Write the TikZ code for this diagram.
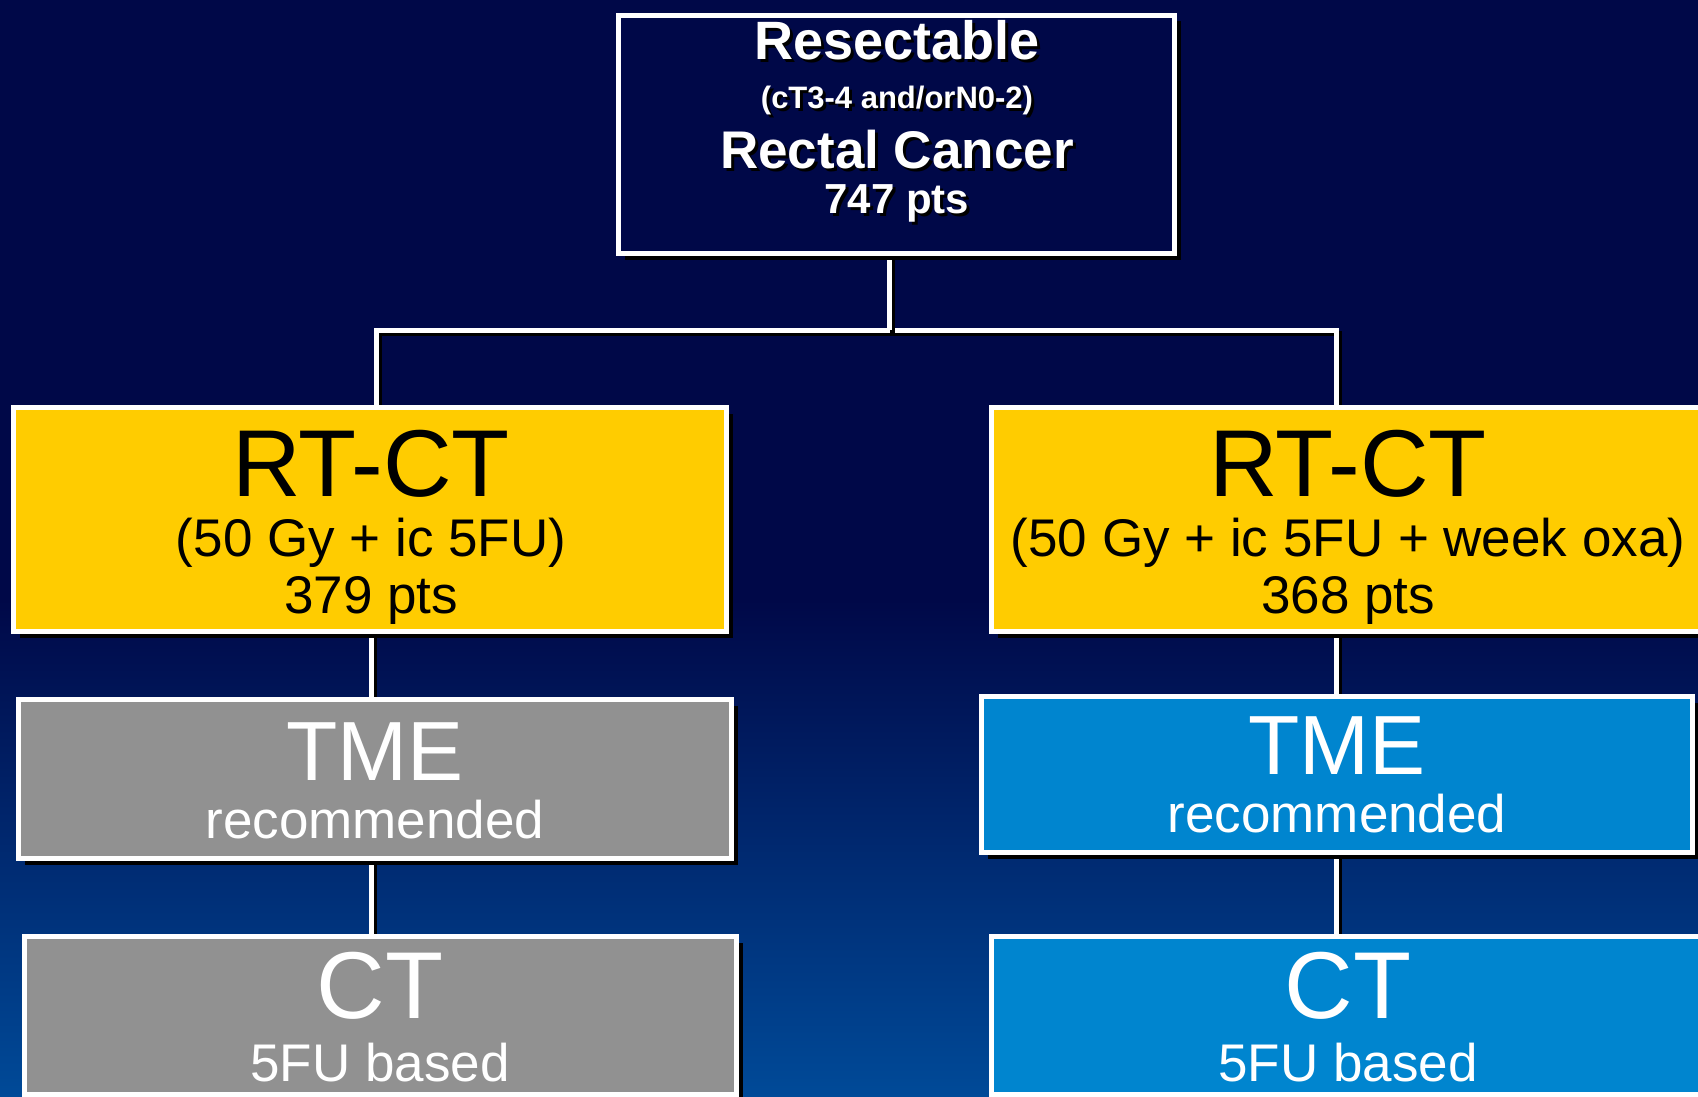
\documentclass[tikz,border=0pt]{standalone}
\usepackage{fontspec}
\setmainfont{Liberation Sans}
\usetikzlibrary{shadows}
\definecolor{bgtop}{RGB}{0,8,72}
\definecolor{bgbot}{RGB}{0,74,152}
\definecolor{boxyellow}{RGB}{255,204,0}
\definecolor{boxgray}{RGB}{145,145,145}
\definecolor{boxblue}{RGB}{0,133,207}
\newcommand\shtxt[1]{\rlap{\kern3pt\raisebox{-3pt}{\textcolor{black}{#1}}}#1}
\newcommand\fsz[1]{\fontsize{#1}{#1}\selectfont}
\pgfdeclarelayer{bglayer}
\pgfdeclarelayer{connlayer}
\pgfsetlayers{bglayer,connlayer,main}
\begin{document}
\begin{tikzpicture}[x=1pt,y=-1pt,
  box/.style={draw=white, line width=5pt, rectangle, inner sep=0pt,
    drop shadow={shadow xshift=6pt, shadow yshift=-6pt, opacity=1, fill=black}},
  conn/.style={draw=white, line width=5pt,
    preaction={draw=black, line width=5pt, transform canvas={xshift=3pt,yshift=-3pt}}},
  lbl/.style={anchor=base, inner sep=0pt},
  toptxt/.style={lbl, text=white, font=\bfseries},
  darktxt/.style={lbl, text=black},
  lighttxt/.style={lbl, text=white},
]
\useasboundingbox (0,0) rectangle (1698,1097);
\begin{pgfonlayer}{bglayer}
\fill[bgtop] (0,0) rectangle (1698,600);
\shade[top color=bgtop, bottom color=bgbot] (0,599) rectangle (1698,1097);
\end{pgfonlayer}

% coordinates for connectors
\coordinate (split) at (889,330);
\coordinate (jL) at (376,330);
\coordinate (jR) at (1336,330);
\coordinate (cL) at (371.5,0);
\coordinate (cR) at (1336,0);

% boxes
\node[box, fill=bgtop, minimum width=556, minimum height=238] (top) at (896.5,134.5) {};
\node[box, fill=boxyellow, minimum width=713, minimum height=224] (rtL) at (370,519.5) {};
\node[box, fill=boxyellow, minimum width=713, minimum height=224] (rtR) at (1348,519.5) {};
\node[box, fill=boxgray, minimum width=713, minimum height=159] (tmeL) at (375,779) {};
\node[box, fill=boxblue, minimum width=711, minimum height=156] (tmeR) at (1337,774.5) {};
\node[box, fill=boxgray, minimum width=712, minimum height=158] (ctL) at (380.5,1015.5) {};
\node[box, fill=boxblue, minimum width=713, minimum height=158] (ctR) at (1348,1015.5) {};

% connectors (behind boxes)
\begin{pgfonlayer}{connlayer}
\draw[conn] (jL |- rtL.north) -- (jL) -- (jR) -- (jR |- rtR.north);
\draw[conn] (top.south -| split) -- (split);
\draw[conn] (rtL.south -| cL) -- (tmeL.north -| cL);
\draw[conn] (tmeL.south -| cL) -- (ctL.north -| cL);
\draw[conn] (rtR.south -| cR) -- (tmeR.north -| cR);
\draw[conn] (tmeR.south -| cR) -- (ctR.north -| cR);
\end{pgfonlayer}

% top box text
\node[toptxt, font=\bfseries\fsz{54}] (t1) at (897,60) {\shtxt{Resectable}};
\node[toptxt, font=\bfseries\fsz{31}] (t2) at (897,109) {\shtxt{(cT3-4 and/orN0-2)}};
\node[toptxt, font=\bfseries\fsz{53}] (t3) at (897,168) {\shtxt{Rectal Cancer}};
\node[toptxt, font=\bfseries\fsz{42}] (t4) at (897,213) {\shtxt{747 pts}};

% yellow boxes
\node[darktxt, font=\fsz{95}] (l1) at (371,496) {RT-CT};
\node[darktxt, font=\fsz{53}] (l2) at (371,556) {(50 Gy + ic 5FU)};
\node[darktxt, font=\fsz{53}] (l3) at (371,613) {379 pts};
\node[darktxt, font=\fsz{95}] (r1) at (1348,496) {RT-CT};
\node[darktxt, font=\fsz{53}] (r2) at (1348,556) {(50 Gy + ic 5FU + week oxa)};
\node[darktxt, font=\fsz{53}] (r3) at (1348,613) {368 pts};

% TME boxes
\node[lighttxt, font=\fsz{84}] (l4) at (375,780) {TME};
\node[lighttxt, font=\fsz{53}] (l5) at (375,838) {recommended};
\node[lighttxt, font=\fsz{84}] (r4) at (1337,774) {TME};
\node[lighttxt, font=\fsz{53}] (r5) at (1337,832) {recommended};

% CT boxes
\node[lighttxt, font=\fsz{95}] (l6) at (380,1018) {CT};
\node[lighttxt, font=\fsz{53}] (l7) at (380,1081) {5FU based};
\node[lighttxt, font=\fsz{95}] (r6) at (1348,1018) {CT};
\node[lighttxt, font=\fsz{53}] (r7) at (1348,1081) {5FU based};
\end{tikzpicture}
\end{document}
